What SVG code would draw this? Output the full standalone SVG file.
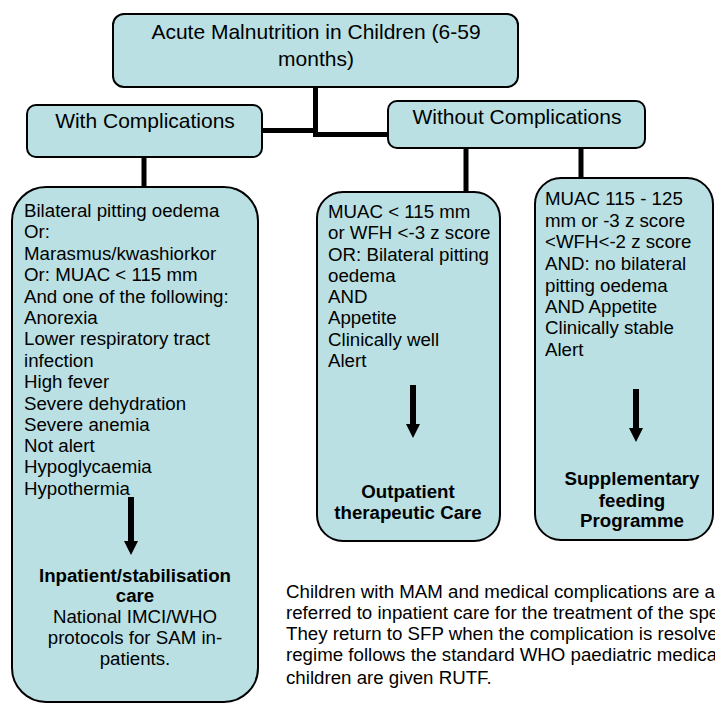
<svg xmlns="http://www.w3.org/2000/svg" width="715" height="704" viewBox="0 0 715 704">
<style>
.box{fill:#BAE0E3;stroke:#000;stroke-width:2}
.t{font-family:"Liberation Sans",Arial,sans-serif;fill:#000}
.big{font-size:21px}
.s{font-size:18.7px}
.b{font-weight:bold}
.c{text-anchor:middle}
.conn{stroke:#000;stroke-width:5;fill:none}
.arr{fill:#000}
</style>
<rect width="715" height="704" fill="#fff"/>
<g id="connectors">
<path class="conn" d="M315.5,88 V137"/>
<path class="conn" d="M262,130.5 H318"/>
<path class="conn" d="M313,134.5 H389"/>
<path class="conn" d="M144,157 V188"/>
<path class="conn" d="M466,148 V192"/>
<path class="conn" d="M581,148 V179"/>
</g>
<g id="root">
<rect class="box" x="113" y="14" width="405" height="73" rx="11"/>
<text class="t big c" x="316" y="39">Acute Malnutrition in Children (6-59</text>
<text class="t big c" x="316" y="66">months)</text>
</g>
<g id="with">
<rect class="box" x="27" y="105" width="235" height="52" rx="9"/>
<text class="t big c" x="145" y="128">With Complications</text>
</g>
<g id="without">
<rect class="box" x="388" y="101" width="257" height="47" rx="9"/>
<text class="t big c" x="517" y="124">Without Complications</text>
</g>
<g id="inpatient">
<rect class="box" x="12" y="187" width="246" height="515" rx="34"/>
<text class="t s" x="24">
<tspan x="24" y="217">Bilateral pitting oedema</tspan>
<tspan x="24" y="238">Or:</tspan>
<tspan x="24" y="260">Marasmus/kwashiorkor</tspan>
<tspan x="24" y="281">Or: MUAC &lt; 115 mm</tspan>
<tspan x="24" y="303">And one of the following:</tspan>
<tspan x="24" y="324">Anorexia</tspan>
<tspan x="24" y="345">Lower respiratory tract</tspan>
<tspan x="24" y="367">infection</tspan>
<tspan x="24" y="388">High fever</tspan>
<tspan x="24" y="410">Severe dehydration</tspan>
<tspan x="24" y="431">Severe anemia</tspan>
<tspan x="24" y="452">Not alert</tspan>
<tspan x="24" y="473">Hypoglycaemia</tspan>
<tspan x="24" y="495">Hypothermia</tspan>
</text>
<polygon class="arr" points="128,497 134,497 134,541 138,541 131,555 124,541 128,541"/>
<text class="t s b c" x="135" y="582">Inpatient/stabilisation</text>
<text class="t s b c" x="135" y="602">care</text>
<text class="t s c" x="135" y="623">National IMCI/WHO</text>
<text class="t s c" x="135" y="644">protocols for SAM in-</text>
<text class="t s c" x="135" y="665">patients.</text>
</g>
<g id="outpatient">
<rect class="box" x="317" y="192" width="183" height="349" rx="26"/>
<text class="t s">
<tspan x="328" y="218">MUAC &lt; 115 mm</tspan>
<tspan x="328" y="239">or WFH &lt;-3 z score</tspan>
<tspan x="328" y="261">OR: Bilateral pitting</tspan>
<tspan x="328" y="282">oedema</tspan>
<tspan x="328" y="303">AND</tspan>
<tspan x="328" y="324">Appetite</tspan>
<tspan x="328" y="346">Clinically well</tspan>
<tspan x="328" y="367">Alert</tspan>
</text>
<polygon class="arr" points="410,385 416,385 416,424 420,424 413,438 406,424 410,424"/>
<text class="t s b c" x="408" y="498">Outpatient</text>
<text class="t s b c" x="408" y="519">therapeutic Care</text>
</g>
<g id="sfp">
<rect class="box" x="535" y="178" width="178" height="362" rx="26"/>
<text class="t s">
<tspan x="545" y="205">MUAC 115 - 125</tspan>
<tspan x="545" y="227">mm or -3 z score</tspan>
<tspan x="545" y="248">&lt;WFH&lt;-2 z score</tspan>
<tspan x="545" y="270">AND: no bilateral</tspan>
<tspan x="545" y="292">pitting oedema</tspan>
<tspan x="545" y="313">AND Appetite</tspan>
<tspan x="545" y="334">Clinically stable</tspan>
<tspan x="545" y="356">Alert</tspan>
</text>
<polygon class="arr" points="633,389 639,389 639,428 643,428 636,442 629,428 633,428"/>
<text class="t s b c" x="632" y="485">Supplementary</text>
<text class="t s b c" x="632" y="507">feeding</text>
<text class="t s b c" x="632" y="527">Programme</text>
</g>
<g id="note">
<text class="t s">
<tspan x="286" y="598">Children with MAM and medical complications are a</tspan>
<tspan x="286" y="619">referred to inpatient care for the treatment of the spe</tspan>
<tspan x="286" y="640">They return to SFP when the complication is resolve</tspan>
<tspan x="286" y="661">regime follows the standard WHO paediatric medica</tspan>
<tspan x="286" y="684">children are given RUTF.</tspan>
</text>
</g>
</svg>
